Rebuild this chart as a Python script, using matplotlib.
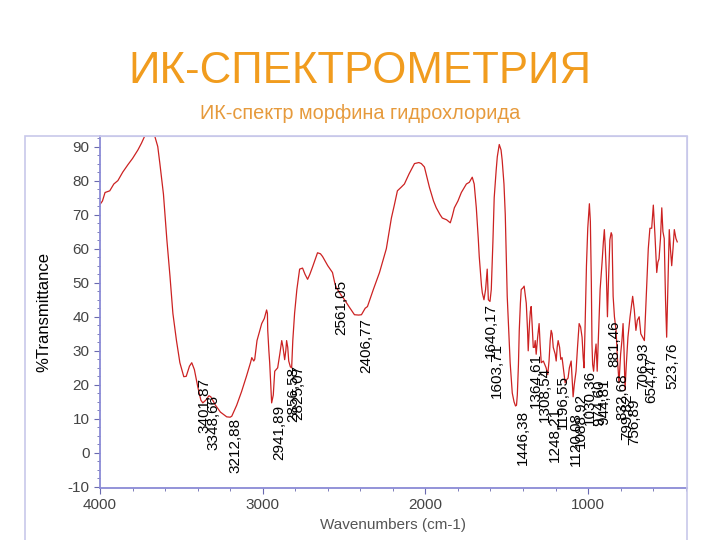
import matplotlib
matplotlib.use("Agg")
import matplotlib.pyplot as plt
from matplotlib.ticker import MultipleLocator
from matplotlib.patches import Rectangle

plt.rcParams['font.family'] = ['Liberation Sans', 'DejaVu Sans']
plt.rcParams['axes.unicode_minus'] = False

# IR spectrum of morphine hydrochloride
wavenumber = [4000, 3985, 3969, 3940, 3915, 3890, 3860, 3828, 3800, 3767, 3745, 3724, 3690, 3663,
              3645, 3632, 3610, 3589, 3570, 3552, 3530, 3509, 3485, 3470, 3450, 3436, 3420, 3399,
              3380, 3368, 3350, 3330, 3319, 3290, 3260, 3221, 3200, 3190, 3160, 3130, 3100, 3075,
              3067, 3055, 3049, 3035, 3018, 3006, 2990, 2976, 2971, 2969, 2962, 2957, 2945, 2935,
              2926, 2908, 2895, 2883, 2875, 2865, 2858, 2853, 2846, 2840, 2830, 2822, 2815, 2804,
              2790, 2773, 2755, 2740, 2724, 2710, 2693, 2663, 2645, 2632, 2600, 2571, 2555, 2546,
              2520, 2497, 2470, 2436, 2410, 2393, 2370, 2356, 2320, 2282, 2240, 2209, 2190, 2172,
              2150, 2129, 2100, 2067, 2040, 2025, 2006, 1975, 1950, 1933, 1910, 1896, 1870, 1847,
              1835, 1822, 1800, 1779, 1760, 1748, 1730, 1712, 1700, 1687, 1675, 1669, 1655, 1650,
              1640, 1630, 1620, 1613, 1603, 1595, 1585, 1577, 1565, 1558, 1546, 1535, 1528, 1517,
              1509, 1497, 1487, 1479, 1466, 1455, 1446, 1440, 1435, 1428, 1423, 1416, 1411, 1400,
              1393, 1385, 1380, 1372, 1368, 1360, 1355, 1350, 1343, 1337, 1330, 1325, 1319, 1310,
              1301, 1295, 1288, 1275, 1258, 1248, 1240, 1233, 1227, 1221, 1214, 1208, 1202, 1196,
              1190, 1184, 1175, 1168, 1160, 1150, 1141, 1132, 1123, 1115, 1104, 1098, 1092, 1085,
              1074, 1065, 1055, 1046, 1037, 1030, 1025, 1018, 1010, 1002, 992, 986, 980, 976,
              972, 966, 958, 951, 944, 935, 926, 920, 914, 906, 900, 894, 888, 881, 875, 866,
              858, 853, 846, 838, 828, 820, 810, 800, 792, 785, 779, 773, 765, 755, 742, 726,
              716, 706, 697, 686, 676, 665, 654, 646, 639, 630, 620, 609, 599, 589, 578, 571,
              564, 555, 547, 540, 532, 524, 517, 510, 501, 494, 486, 478, 470, 460, 452]
transmittance = [73, 74, 76.5, 77, 79, 80, 82.5, 84.7, 86.5, 89, 91, 93.2, 93.3, 93,
                 90, 85, 76, 62.6, 52, 41, 33, 26.5, 22.4, 22.5, 25.5, 26.5, 24.5, 19.4,
                 15.5, 14.7, 15.5, 16.8, 16.5, 14, 12, 10.6, 10.5, 10.8, 14, 18, 22.5, 26.5,
                 28, 27, 27.5, 33, 36, 38, 39.5, 42, 41, 36, 30, 26.5, 14.7, 17,
                 24, 25, 29, 33, 31, 27.4, 30, 33, 31, 27, 25.3, 25, 33, 41,
                 48, 54, 54.3, 52.5, 51, 52.5, 54.7, 58.8, 58.5, 57.7, 55, 53, 49.5, 48.5,
                 46.5, 45, 43, 40.6, 40.5, 40.6, 42.5, 43, 48, 53, 60, 69, 73, 77,
                 78, 79, 82, 85, 85.3, 85, 84, 78, 74, 72, 70, 69, 68.5, 67.6,
                 69.5, 72, 74, 76.5, 78, 79, 79.5, 81, 79, 72, 63, 57.7, 49, 47,
                 45, 48, 54, 45, 44.5, 48, 62, 75, 83, 87, 90.6, 89, 86, 79,
                 70, 46, 35, 26.5, 17.6, 15, 13.8, 14, 17, 26, 36, 44, 48, 48.5,
                 49, 46, 44, 36, 30, 38, 41.5, 43, 37, 31, 31, 33, 29, 34,
                 38, 32, 26.5, 27, 25, 23, 27, 33, 36, 35, 31, 30, 29, 27,
                 31, 33, 31, 27.5, 28, 24, 20.6, 21.5, 22, 25, 27, 22, 16.5, 20,
                 24, 31, 38, 37, 34, 28, 25, 38, 55, 66, 73.2, 68, 50, 32,
                 26, 24, 29, 32, 24, 36, 48, 52, 56, 62, 65.6, 60, 53, 40, 50, 62.6,
                 64.7, 64, 46, 40, 36, 28, 20.6, 29, 33, 38, 30, 18.5, 26, 34, 40, 46,
                 42, 36, 39, 40, 35, 34, 33, 42, 50, 60, 66, 66, 72.8, 64, 53, 56,
                 57, 63, 72, 65, 63, 45, 34, 48, 65.6, 60, 55, 60, 65.6, 63, 62]

# peak labels: wavenumber, text, top of label (%T)
peak_wn = [3401.87, 3348.66, 3212.88, 2941.89, 2856.58, 2825.07, 2561.05, 2406.77,
           1640.17, 1603.71, 1446.38, 1364.61, 1308.54, 1248.21, 1196.55, 1120.08,
           1088.92, 1030.36, 974.60, 944.81, 881.46, 832.68, 799.82, 756.89,
           706.93, 654.47, 523.76]
peak_txt = ["3401,87", "3348,66", "3212,88", "2941,89", "2856,58", "2825,07", "2561,05", "2406,77",
            "1640,17", "1603,71", "1446,38", "1364,61", "1308,54", "1248,21", "1196,55", "1120,08",
            "1088,92", "1030,36", "974,60", "944,81", "881,46", "832,68", "799,82", "756,89",
            "706,93", "654,47", "523,76"]
peak_top = [22, 17, 10.3, 14.1, 25.3, 25.9, 50.9, 39.7,
            44.1, 32.4, 12.6, 29.4, 25.3, 13.5, 23, 12,
            17.6, 24.4, 21.5, 22, 39, 23.5, 17.6, 16,
            32.4, 28.2, 32.4]

fig = plt.figure(figsize=(7.2, 5.4), dpi=100)
fig.patch.set_facecolor('white')

fig.text(0.5, 0.868, "ИК-СПЕКТРОМЕТРИЯ", ha='center', va='center',
         fontsize=31.5, color='#f19c1e')
fig.text(0.5, 0.79, "ИК-спектр морфина гидрохлорида", ha='center', va='center',
         fontsize=14.3, color='#e69a3c')

# lavender frame around the spectrum panel
fig.patches.append(Rectangle((25 / 720, -0.02), 662 / 720, 1 - 136 / 540 + 0.02,
                             transform=fig.transFigure, fill=False,
                             edgecolor='#c8c8ea', linewidth=1.2))

ax = fig.add_axes([100 / 720, 1 - 488 / 540, 587 / 720, 352 / 540])
ax.plot(wavenumber, transmittance, color='#cc2222', linewidth=0.9)

for wn, txt, top in zip(peak_wn, peak_txt, peak_top):
    ax.text(wn, top, txt, rotation=90, ha='left', va='top', fontsize=11, color='black')

ax.set_xlim(4000, 392)
ax.set_ylim(-10.3, 93.1)
ax.xaxis.set_major_locator(MultipleLocator(1000))
ax.xaxis.set_minor_locator(MultipleLocator(200))
ax.yaxis.set_major_locator(MultipleLocator(10))
ax.yaxis.set_minor_locator(MultipleLocator(2.5))

for side in ['top', 'right']:
    ax.spines[side].set_color('#c8c8ea')
for side in ['left', 'bottom']:
    ax.spines[side].set_color('#8a8ad6')
    ax.spines[side].set_linewidth(1.3)
ax.tick_params(axis='both', which='major', direction='out', length=4,
               color='#6a6ab0', labelsize=11, labelcolor='#444444')
ax.tick_params(axis='both', which='minor', direction='out', length=2, color='#6a6ab0')

ax.set_ylabel("%Transmittance", fontsize=12, color='black', labelpad=12)
ax.set_xlabel("Wavenumbers (cm-1)", fontsize=11, color='#555555', labelpad=4)

fig.savefig("out.png", dpi=100)
